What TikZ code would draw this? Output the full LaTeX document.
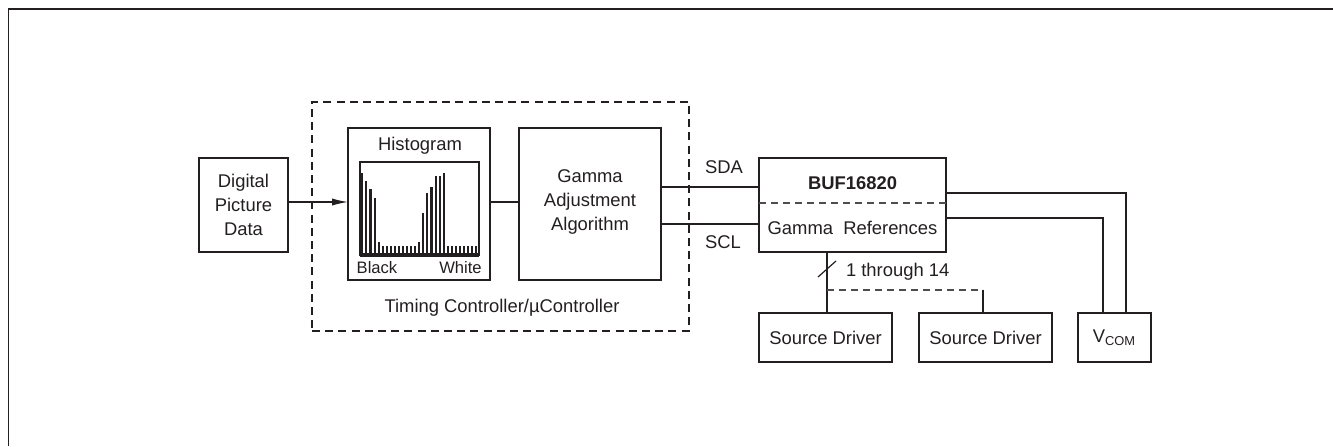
\documentclass[tikz,border=0pt]{standalone}
\usepackage{fontspec}
\setmainfont{Liberation Sans}
\usetikzlibrary{arrows.meta}
\definecolor{ink}{HTML}{231F20}
\begin{document}
\begin{tikzpicture}[x=0.5pt,y=-0.5pt,
  every node/.style={text=ink,font=\fontsize{9.2}{11.8}\selectfont,inner sep=0pt,outer sep=0pt},
  blk/.style={draw=ink,line width=1.1pt,align=center},
  wire/.style={draw=ink,line width=0.6pt},
  dwire/.style={draw=ink!80,line width=0.6pt,dash pattern=on 3.5pt off 2.5pt},
  small/.style={font=\fontsize{8.3}{9.6}\selectfont},
  bar/.style={draw=ink,line width=1.2pt}]
\useasboundingbox (0,0) rectangle (1333,446);
% outer frame
\draw[ink,line width=0.85pt] (8.5,446) -- (8.5,9) -- (1333,9);
% dashed controller box
\node[draw=ink,line width=1pt,dash pattern=on 4pt off 2.6pt,minimum width=188.5pt,minimum height=114.5pt] (ctrl) at (500.5,216.5) {};
\node (ctrllbl) at (502,308) {Timing Controller/\textmu Controller};
% digital picture data
\node[blk,minimum width=44.5pt,minimum height=47pt] (dig) at (243.5,205) {Digital\\Picture\\Data};
% histogram
\node[blk,minimum width=71pt,minimum height=76pt] (hist) at (419,204) {};
\node (histlbl) at (420,146) {Histogram};
\node[draw=ink,line width=1.1pt,minimum width=59.5pt,minimum height=46.5pt] (inner) at (419.5,208.5) {};
\draw[ink,line width=1.8pt] (inner.south west) -- (inner.south east);
\foreach \x/\t in {361.5/173,366/181,370.5/189,375/198,379/242,
  383/246,387/246,391/246,395/246,399/246,403/246,407/246,411/246,415/246,
  419/242,423/213,427/193,431.5/187,436/176,440/176,444/173,
  448/246,452/246,456/246,460/246,464/246,468/246,472/246,476/246}
  \draw[bar] (\x,255) -- (\x,\t);
\node[small] (black) at (377,268) {Black};
\node[small] (white) at (460.5,268) {White};
% gamma adjustment
\node[blk,minimum width=71pt,minimum height=76pt] (gam) at (590,204) {};
\node[align=center] (gamlbl) at (590,202) {Gamma\\Adjustment\\Algorithm};
% BUF16820
\node[blk,minimum width=93.5pt,minimum height=47pt] (buf) at (852.5,205) {};
\node[font=\fontsize{9.2}{11.8}\selectfont\bfseries] (buflbl) at (852.5,183) {BUF16820};
\node (gref) at (852.5,228) {Gamma\ \ References};
\coordinate (divy) at (0,203);
\draw[dwire] (buf.west |- divy) -- (buf.east |- divy);
% bottom boxes
\node[blk,minimum width=66.5pt,minimum height=24.5pt] (sd1) at (825.5,337.5) {Source Driver};
\node[blk,minimum width=66.5pt,minimum height=24.5pt] (sd2) at (985.5,337.5) {Source Driver};
\node[blk,minimum width=36.5pt,minimum height=24.5pt] (vcom) at (1114.5,337.5) {V\textsubscript{COM}};
% connectors
\coordinate (ya) at (0,202);
\draw[wire,-{Latex[length=8pt,width=3.6pt]}] (dig.east |- ya) -- (hist.west |- ya);
\draw[wire] (hist.east |- ya) -- (gam.west |- ya);
\coordinate (ysda) at (0,187);
\coordinate (yscl) at (0,224);
\draw[wire] (gam.east |- ysda) -- (buf.west |- ysda);
\draw[wire] (gam.east |- yscl) -- (buf.west |- yscl);
\node (sda) at (724,167) {SDA};
\node (scl) at (723,242) {SCL};
% to source drivers
\coordinate (xs) at (827,0);
\coordinate (ydash) at (0,290);
\draw[wire] (buf.south -| xs) -- (sd1.north -| xs);
\draw[wire] (818,277) -- (836,261);
\node[anchor=west] (thr) at (846,272) {1 through 14};
\coordinate (xs2) at (983,0);
\draw[dwire] (xs |- ydash) -- (xs2 |- ydash);
\draw[wire] (xs2 |- ydash) -- (sd2.north -| xs2);
% to VCOM
\coordinate (v1) at (1126,193);
\coordinate (v2) at (1103,218);
\draw[wire] (buf.east |- v1) -- (v1) -- (vcom.north -| v1);
\draw[wire] (buf.east |- v2) -- (v2) -- (vcom.north -| v2);
\end{tikzpicture}
\end{document}
